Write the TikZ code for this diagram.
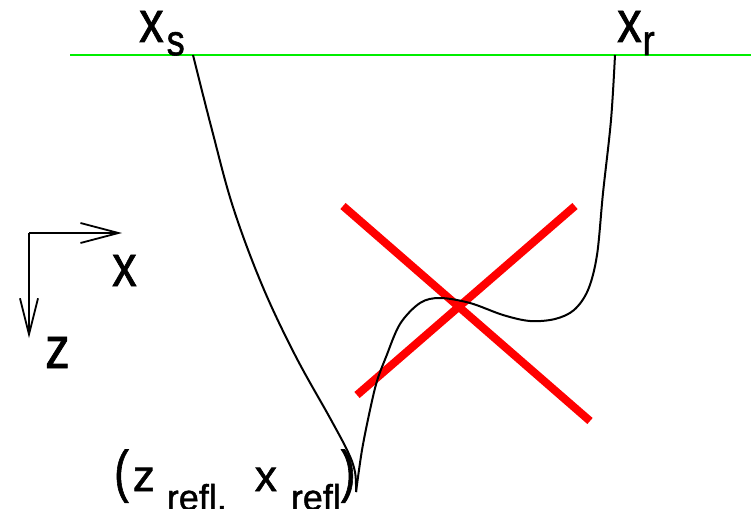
\documentclass[tikz,border=0pt]{standalone}
\usepackage{fontspec}
\setmainfont{Liberation Sans}[FakeBold=1.3]
\usepackage{tikz}
\usetikzlibrary{arrows.meta}
\definecolor{surface}{HTML}{00EE00}
\definecolor{wrong}{HTML}{FF0000}
\newcommand{\tallbox}[1]{\scalebox{1}[1.2]{#1}}
\newcommand{\lowsub}[3]{\raisebox{-#1}{\fontsize{#2}{#2}\selectfont #3}}

\begin{document}
\begin{tikzpicture}[x=1pt,y=-1pt,every node/.style={inner sep=0pt,anchor=base west},lbl/.style={font=\fontsize{49}{49}\selectfont},ray/.style={black,line width=2pt},cross/.style={wrong,line width=8pt},axis/.style={black,line width=1.8pt}]
\useasboundingbox (0,0) rectangle (751,508);
% surface with source and receiver
\coordinate (west) at (70,55);
\coordinate (east) at (751,55);
\coordinate (xs) at (193,55);
\coordinate (xr) at (615,55);
\coordinate (refl) at (356,492);
\draw[surface,line width=2pt] (west) -- (east);
\node[lbl] (lxs) at (139,42) {\tallbox{x\kern3pt\lowsub{11pt}{36}{s}}};
\node[lbl] (lxr) at (617,42) {\tallbox{x\kern1pt\lowsub{11pt}{36}{r}}};
% axes
\coordinate (orig) at (29,233);
\coordinate (xend) at (122,233);
\coordinate (zend) at (29,338);
\draw[axis,-{Straight Barb[length=38pt,width=20pt]}] (orig) -- (xend);
\draw[axis,-{Straight Barb[length=36pt,width=18pt]}] (orig) -- (zend);
\node[lbl] (lx) at (112,286) {\tallbox{x}};
\node[lbl] (lz) at (45,368) {\tallbox{z}};
% crossed out
\coordinate (c1) at (343,206);
\coordinate (c2) at (590,421);
\coordinate (c3) at (575,206);
\coordinate (c4) at (357,395);
\draw[cross] (c1) -- (c2);
\draw[cross] (c3) -- (c4);
% ray path
\draw[ray] plot[smooth,tension=0.6] coordinates {(xs) (212,130) (233,207) (262,285) (295,355) (330,418) (348,452) (355,472) (refl)};
\draw[ray] plot[smooth,tension=0.55] coordinates {(refl) (362,450) (370,410) (377,381) (386,357) (400,324) (420,303) (440,298) (470,303) (503,315) (530,321) (555,319) (574,310) (588,290) (597,255) (603,193) (611,120) (xr)};
\node (lrefl) at (114,491) {\fontsize{44}{44}\selectfont\scalebox{1}[1.3]{(}\kern4pt z\kern12pt\lowsub{19pt}{36}{refl,}\kern28pt x\kern14pt\lowsub{19pt}{36}{refl}\scalebox{1}[1.3]{)}};
\end{tikzpicture}
\end{document}
